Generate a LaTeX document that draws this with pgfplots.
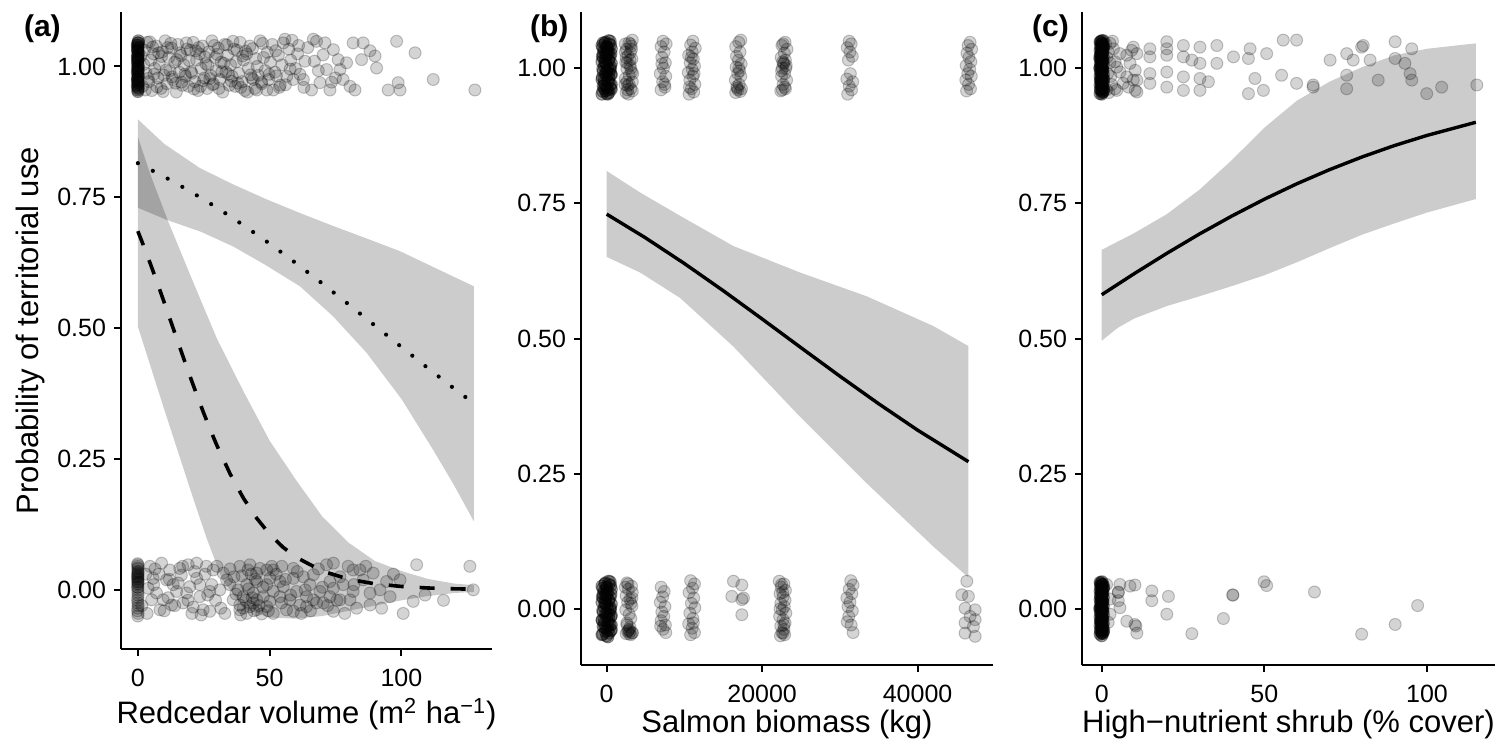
\documentclass[border=0pt]{standalone}
\usepackage{fontspec}
\setmainfont{Liberation Sans}
\usepackage{pgfplots}
\usepackage{pgfplotstable}
\pgfplotsset{compat=1.18}
\pgfplotsset{
  panel/.style={
    scale only axis,
    axis x line*=bottom, axis y line*=left,
    axis line style={line width=1pt, black},
    tick align=outside, major tick length=3.3pt,
    every tick/.style={line width=1pt, black},
    minor tick num=0,
    ytick={0,0.25,0.5,0.75,1},
    yticklabel={\pgfmathprintnumber[fixed,fixed zerofill,precision=2,assume math mode=true]{\tick}},
    xticklabel={\pgfmathprintnumber[fixed,precision=0,1000 sep={},assume math mode=true]{\tick}},
    scaled x ticks=false, scaled y ticks=false,
    tick label style={font=\fontsize{12.5}{14}\selectfont, text=black},
    yticklabel style={anchor=east, inner sep=0pt, xshift=-4pt},
    xticklabel style={anchor=north, inner sep=0pt, yshift=-6.3pt},
  },
  pts/.style={only marks, mark=*, mark size=3pt,
    mark options={fill=black, fill opacity=0.17, draw=black, draw opacity=0.22, line width=0.5pt}},
  rib/.style={fill=black, fill opacity=0.2, draw=none},
}
% observations stacked at zero on the x axis (many sites share x = 0)
\pgfplotstableread{
x y
0 0.952
0.2 0.958
-0.2 0.963
0.1 0.968
0 0.972
-0.1 0.976
0.2 0.981
0 0.985
-0.2 0.989
0.1 0.993
0 0.997
0.2 1.001
-0.1 1.005
0 1.009
0.1 1.013
-0.2 1.017
0 1.021
0.2 1.025
-0.1 1.029
0 1.033
0.1 1.037
-0.2 1.041
0 1.045
0.2 1.049
0 0.955
0.1 0.965
-0.1 0.975
0 0.995
0.1 1.015
-0.1 1.035
0 0.96
0 0.98
0 1.0
0 1.02
0 1.04
0.1 0.99
-0.1 1.01
0 1.03
0 0.97
0.2 1.045
}\colAone
\pgfplotstableread{
x y
-600 0.952
300 0.955
-150 0.958
600 0.961
0 0.964
-450 0.967
450 0.970
-300 0.973
150 0.976
-600 0.979
300 0.982
0 0.985
600 0.988
-150 0.991
-450 0.994
450 0.997
150 1.000
-300 1.003
0 1.006
600 1.009
-600 1.012
300 1.015
-150 1.018
450 1.021
0 1.024
-450 1.027
150 1.030
-300 1.033
600 1.036
0 1.039
-600 1.042
300 1.045
-150 1.048
450 1.050
150 0.960
-300 0.980
450 1.000
-450 1.020
0 1.040
300 0.990
-150 1.010
600 0.970
0 0.953
-450 1.047
300 1.028
-300 0.962
150 1.037
0 0.995
-500 0.957
500 0.963
-250 0.969
250 0.975
-550 0.983
550 0.989
0 0.993
-500 0.999
500 1.004
-250 1.011
250 1.016
-550 1.022
550 1.027
0 1.031
-500 1.038
500 1.043
-250 1.046
250 1.051
150 0.952
-150 1.026
}\colBone
\pgfplotstableread{
x y
-600 -0.048
300 -0.045
-150 -0.042
600 -0.039
0 -0.036
-450 -0.033
450 -0.030
-300 -0.027
150 -0.024
-600 -0.021
300 -0.018
0 -0.015
600 -0.012
-150 -0.009
-450 -0.006
450 -0.003
150 0.000
-300 0.003
0 0.006
600 0.009
-600 0.012
300 0.015
-150 0.018
450 0.021
0 0.024
-450 0.027
150 0.030
-300 0.033
600 0.036
0 0.039
-600 0.042
300 0.045
-150 0.048
450 0.050
150 -0.040
-300 -0.020
450 0.000
-450 0.020
0 0.040
300 -0.010
-150 0.010
600 -0.030
0 -0.050
-500 -0.047
500 -0.041
-250 -0.035
250 -0.029
-550 -0.021
550 -0.015
0 -0.009
-500 -0.003
500 0.002
-250 0.011
250 0.016
-550 0.022
550 0.027
0 0.031
-500 0.038
500 0.043
-250 0.046
250 0.051
150 -0.052
-150 0.026
}\colBzero
\pgfplotstableread{
x y
0 0.952
0.3 0.956
-0.3 0.960
0.1 0.964
-0.1 0.968
0.3 0.972
0 0.976
-0.3 0.980
0.2 0.984
0 0.988
-0.2 0.992
0.3 0.996
0 1.000
-0.3 1.004
0.1 1.008
-0.1 1.012
0.3 1.016
0 1.020
-0.3 1.024
0.2 1.028
0 1.032
-0.2 1.036
0.3 1.040
0 1.044
-0.3 1.048
0.1 1.051
0 0.958
0 0.966
0 0.974
0 0.982
0 0.990
0 0.998
0 1.006
0 1.014
0 1.022
0 1.030
0 1.038
0 1.046
0.2 0.962
-0.2 0.978
0.2 1.002
-0.2 1.018
0.2 1.034
-0.2 1.050
-0.5 0.953
0.5 0.957
-0.4 0.961
0.4 0.965
-0.5 0.969
0.5 0.973
-0.4 0.977
0.4 0.981
-0.5 0.985
0.5 0.989
-0.4 0.993
0.4 0.997
-0.5 1.001
0.5 1.005
-0.4 1.009
0.4 1.013
-0.5 1.017
0.5 1.021
-0.4 1.025
0.4 1.029
-0.5 1.033
0.5 1.037
-0.4 1.041
0.4 1.045
-0.5 1.049
0.5 1.051
0.1 0.955
-0.1 0.97
0.1 0.985
-0.1 1.0
0.1 1.015
-0.1 1.03
0.1 1.045
0.6 0.96
-0.6 1.0
0.6 1.04
0.6 0.98
-0.6 1.02
}\colCone
\pgfplotstableread{
x y
0 -0.050
0.3 -0.046
-0.3 -0.042
0.1 -0.038
-0.1 -0.034
0.3 -0.030
0 -0.026
-0.3 -0.022
0.2 -0.018
0 -0.014
-0.2 -0.010
0.3 -0.006
0 -0.002
-0.3 0.002
0.1 0.006
-0.1 0.010
0.3 0.014
0 0.018
-0.3 0.022
0.2 0.026
0 0.030
-0.2 0.034
0.3 0.038
0 0.042
-0.3 0.046
0.1 0.050
0 -0.044
0 -0.036
0 -0.028
0 -0.020
0 -0.012
0 -0.004
0 0.004
0 0.012
0 0.020
0 0.028
0 0.036
0 0.044
0.2 -0.040
-0.2 -0.024
0.2 0.000
-0.2 0.016
0.2 0.032
-0.2 0.048
-0.5 -0.047
0.5 -0.043
-0.4 -0.039
0.4 -0.035
-0.5 -0.031
0.5 -0.027
-0.4 -0.023
0.4 -0.019
-0.5 -0.015
0.5 -0.011
-0.4 -0.007
0.4 -0.003
-0.5 0.001
0.5 0.005
-0.4 0.009
0.4 0.013
-0.5 0.017
0.5 0.021
-0.4 0.025
0.4 0.029
-0.5 0.033
0.5 0.037
-0.4 0.041
0.4 0.045
-0.5 0.049
0.1 -0.045
-0.1 -0.03
0.1 -0.015
-0.1 0.0
0.1 0.015
-0.1 0.03
0.1 0.045
0.6 -0.04
-0.6 0.0
0.6 0.04
}\colCzero
\begin{document}
\begin{tikzpicture}
\path (0,0) rectangle (751.5pt,371pt);
% ---------------- panel (a)
\begin{axis}[panel, at={(60.5pt,46.5pt)}, anchor=south west,
  width=185.5pt, height=318.5pt,
  xmin=-6.4, xmax=134.4, ymin=-0.113, ymax=1.104,
  xtick={0,50,100},
  xlabel={Redcedar volume (m\textsuperscript{2} ha\textsuperscript{−1})},
  xlabel style={at={(axis description cs:0.5,-0.1177)}, anchor=base, font=\fontsize{15.5}{18}\selectfont},
  ylabel={Probability of territorial use},
  ylabel style={at={(axis description cs:-0.2237,0.5)}, rotate=0, anchor=base, font=\fontsize{15.5}{18}\selectfont},
]
\addplot[rib] coordinates {(0,0.899) (10,0.852) (23.5,0.806) (36,0.775) (48.9,0.746) (61.5,0.72) (74.2,0.695) (87,0.671) (99.5,0.647) (112,0.617) (127.5,0.580)
  (127.5,0.131) (120,0.20) (112,0.268) (100,0.365) (86.8,0.453) (74,0.523) (61.5,0.580) (48,0.622) (36.2,0.656) (24,0.684) (10.9,0.707) (0,0.730)};
\addplot[rib] coordinates {(0,0.865) (5,0.79) (11.5,0.704) (20,0.60) (30,0.48) (40,0.38) (50,0.285) (60,0.21) (70,0.14) (80,0.09) (90,0.055) (100,0.036) (110,0.021) (120,0.012) (127.5,0.009)
  (127.5,-0.004) (120,-0.006) (110,-0.012) (100,-0.02) (90,-0.03) (80,-0.04) (70,-0.05) (60,-0.055) (50,-0.053) (40,-0.035) (32,0.02) (26,0.10) (20,0.19) (10,0.345) (0,0.503)};
\addplot[pts] table {\colAone};
\addplot[pts] table {\colAone};
% points y = 1
\addplot[pts] table {
1.8 0.962
2.5 1.031
3.1 0.987
3.6 1.046
4.2 0.971
4.9 1.012
5.3 0.954
5.9 1.024
6.4 0.996
7.0 1.039
7.6 0.978
8.1 1.005
8.8 0.958
9.3 1.028
9.9 0.983
10.4 1.049
11.0 0.967
11.7 1.017
12.2 0.992
12.8 1.035
13.3 0.975
14.0 1.008
14.6 0.951
15.1 1.042
15.7 0.989
16.4 1.021
16.9 0.964
17.5 1.003
18.1 0.981
18.6 1.033
19.2 0.962
19.9 1.031
20.5 0.987
21.0 1.046
21.6 0.971
22.3 1.012
22.8 0.954
23.4 1.024
24.0 0.996
24.5 1.039
25.2 0.978
25.8 1.005
26.3 0.958
26.9 1.028
27.6 0.983
28.1 1.049
28.7 0.967
29.3 1.017
29.8 0.992
30.5 1.035
31.1 0.975
31.6 1.008
32.2 0.951
32.9 1.042
33.4 0.989
34.0 1.021
34.7 0.964
35.2 1.003
35.8 0.981
36.5 1.033
37.0 0.962
37.6 1.031
38.3 0.987
38.8 1.046
39.5 0.971
40.1 1.012
40.6 0.954
41.3 1.024
41.9 0.996
42.5 1.039
43.2 0.978
43.8 0.975
44.4 0.958
45.1 0.955
45.7 0.983
46.4 1.049
47.0 0.967
47.7 1.017
48.3 0.992
48.9 0.955
49.6 0.975
50.3 1.008
51.0 1.042
51.4 0.955
52.0 0.989
52.6 0.982
53.3 1.021
54.0 0.964
54.7 1.003
55.2 1.045
55.8 1.052
56.5 0.981
57.3 1.033
58.0 1.012
59.0 0.975
59.8 0.996
60.6 1.024
61.5 0.985
62.8 0.975
63.4 1.010
64.5 1.036
65.9 0.955
66.6 1.052
67.8 1.048
68.5 0.992
69.1 0.969
70.3 1.022
71.6 0.994
72.9 0.955
74.2 1.032
75.0 0.978
76.0 1.013
76.7 0.994
77.9 0.975
79.2 1.007
80.5 0.962
81.7 1.045
82.4 0.955
84.9 1.013
85.5 1.045
88.1 1.030
90.0 1.020
90.6 0.997
95.0 0.955
98.2 1.048
98.8 0.969
99.5 0.955
105.2 1.026
112.1 0.975
127.9 0.955
2.2 1.004
3.9 0.977
5.6 1.037
7.3 0.961
9.0 1.019
10.7 0.993
12.5 1.044
14.3 0.968
16.0 1.026
17.8 0.985
19.5 1.011
21.3 0.957
23.0 1.036
24.8 0.973
26.6 1.002
28.4 0.965
30.1 1.023
31.9 0.99
33.7 1.041
35.5 0.972
37.3 1.009
39.1 0.96
40.9 1.029
42.8 0.984
44.7 1.015
46.9 0.97
49.1 1.027
53.7 0.96
57.8 0.995
61.0 1.04
1.2 1.02
2.8 0.955
4.5 1.047
6.1 0.985
7.9 1.026
9.6 0.952
11.3 1.036
13.0 0.98
14.8 1.013
16.6 0.97
18.4 1.045
20.2 0.99
22.0 1.03
23.8 0.962
25.5 1.018
27.3 0.977
29.0 1.04
30.8 0.958
32.6 1.006
34.4 0.985
36.1 1.048
38.0 0.968
39.8 1.02
41.6 0.951
43.5 1.034
45.3 1.0
47.3 1.044
49.8 0.985
52.3 1.03
56.0 0.965
58.5 1.05
63.0 0.96
67.0 1.01
71.0 1.045
73.5 0.97
};
% points y = 0
\addplot[pts] table {
0 -0.05
0.1 -0.045
-0.1 -0.04
0 -0.035
0.1 -0.03
0 -0.025
-0.1 -0.02
0 -0.015
0.1 -0.01
0 -0.005
0 0
-0.1 0.005
0 0.01
0.1 0.015
0 0.02
-0.1 0.025
0 0.03
0.1 0.035
0 0.04
0 0.045
-0.1 0.05
0 0.012
0 0.022
0 0.028
0 0.018
0 0.035
0 0.005
0 0.042
0 0.025
0 0.015
0 0.032
0 0.048
4.6 0.045
9.0 0.051
12.1 0.038
15.9 0.041
19.1 0.048
22.3 0.051
5.8 0.022
10.9 0.019
15.3 0.013
19.7 0.006
23.5 0.010
8.4 -0.038
12.8 -0.029
17.2 -0.025
21.0 -0.033
24.8 -0.038
27.3 -0.041
28.6 0.038
32.4 0.032
34.9 0.010
38.7 0.045
42.5 0.048
45.1 0.032
48.9 0.038
51.4 0.038
54.6 0.045
59.0 0.041
62.8 0.025
66.6 0.029
71.6 0.048
74.2 0.051
79.8 0.045
84.3 0.038
89.3 0.032
94.4 0.016
99.5 0.019
105.8 0.048
126.0 0.045
127.3 0.000
100.7 -0.045
104.5 -0.022
109.0 -0.010
95.7 -0.013
88.1 -0.029
81.7 0.038
38.7 -0.038
41.3 -0.045
45.1 -0.038
48.9 -0.032
51.4 -0.045
56.4 -0.038
59.0 -0.041
64.0 -0.032
67.8 -0.025
74.2 -0.041
83.0 -0.035
40.0 -0.013
43.8 -0.006
47.6 -0.013
51.4 -0.003
55.2 0.006
60.2 -0.003
64.0 -0.013
69.1 -0.003
74.2 0.003
77.9 0.010
81.7 -0.003
31.1 0.000
36.2 -0.019
27.3 -0.003
23.5 -0.013
18.5 -0.006
14.7 -0.003
41.3 0.010
45.1 0.016
50.1 0.022
53.9 0.016
59.0 0.022
65.3 0.010
72.9 0.016
76.7 0.025
85.5 0.019
91.9 0.000
76.7 -0.019
70.4 -0.025
88.1 -0.006
48.9 0.010
33.7 0.019
22.3 0.022
38.7 -0.029
43.8 -0.025
42.5 -0.032
40.0 -0.035
45.1 -0.019
50.1 -0.022
53.9 -0.013
57.7 -0.019
61.5 -0.029
66.6 -0.019
72.9 -0.013
80.5 -0.019
13.4 0.010
7.1 -0.006
3.9 0.003
5.2 -0.019
9.6 -0.019
42.0 0.002
44.0 -0.040
46.3 0.041
39.5 0.027
37.2 -0.008
47.0 -0.046
43.0 0.030
41.0 -0.020
3.0 0.030
6.5 0.040
11.5 -0.015
16.5 0.028
20.5 -0.045
25.5 0.030
29.5 -0.020
26.0 0.045
1.5 -0.03
3.5 -0.045
6.0 0.01
8.0 0.03
10.0 -0.04
12.0 0.02
14.0 -0.03
17.0 0.045
19.0 -0.02
21.5 0.035
24.0 -0.048
26.5 -0.01
28.0 0.01
30.0 0.045
31.5 -0.035
33.0 -0.045
35.0 0.04
36.5 0.025
38.0 0.0
39.0 -0.048
41.8 0.038
43.4 -0.015
44.5 0.02
46.0 -0.03
47.5 0.005
49.5 -0.04
50.8 0.045
52.5 0.03
54.5 -0.025
56.0 0.02
58.0 -0.01
60.5 0.035
62.0 -0.045
63.5 0.0
65.5 -0.04
68.5 0.04
70.0 0.005
72.0 -0.03
75.5 -0.02
78.5 -0.045
82.0 0.01
86.5 0.045
92.5 -0.035
97.0 0.03
116.0 -0.02
};
\addplot[black, line width=2.1pt, line cap=round, dash pattern=on 0pt off 8.4pt] coordinates {
(0,0.8152) (10,0.7894) (20,0.7610) (30,0.7302) (40,0.6969) (50,0.6615) (60,0.6241) (70,0.5853) (80,0.5453) (90,0.5047) (100,0.4641) (110,0.4239) (120,0.3847) (127.5,0.3563)};
\addplot[black, line width=1.8pt, dash pattern=on 7.5pt off 8pt] coordinates {
(0,0.6853) (2.5,0.6531) (5,0.6195) (7.5,0.5848) (10,0.5491) (12.5,0.5129) (15,0.4766) (17.5,0.4406) (20,0.4052) (22.5,0.3707) (25,0.3375) (27.5,0.3058) (30,0.2759) (35,0.2217) (40,0.1757) (45,0.1375) (50,0.1065) (55,0.0818) (60,0.0625) (70,0.0359) (80,0.0204) (90,0.0115) (100,0.0065) (110,0.0036) (120,0.0020) (127.5,0.0013)};
\end{axis}
% ---------------- panel (b)
\begin{axis}[panel, at={(290.5pt,38.5pt)}, anchor=south west,
  width=206pt, height=326.5pt,
  xmin=-3300, xmax=49700, ymin=-0.104, ymax=1.104,
  xtick={0,20000,40000},
  xlabel={Salmon biomass (kg)},
  xlabel style={at={(axis description cs:0.5,-0.1026)}, anchor=base, font=\fontsize{15.5}{18}\selectfont},
]
\addplot[rib] coordinates {(0,0.810) (4310,0.770) (9450,0.727) (16310,0.671) (24890,0.622) (33470,0.578) (42030,0.523) (46540,0.486)
  (46540,0.058) (42030,0.115) (33470,0.232) (24890,0.355) (16310,0.485) (9450,0.575) (4310,0.622) (0,0.651)};
\addplot[pts] table {\colBone};
\addplot[pts] table {\colBone};
\addplot[pts] table {\colBzero};
\addplot[pts] table {\colBzero};
\addplot[pts] table {
2500 0.955
3100 0.962
2700 0.968
3300 0.975
2400 0.981
2900 0.987
3200 0.993
2600 0.999
3000 1.005
2450 1.011
3250 1.017
2750 1.023
3050 1.029
2550 1.035
3150 1.041
2850 1.047
3300 1.052
2400 1.045
2700 0.96
3100 1.0
2500 1.02
2900 0.97
3200 1.035
2350 0.97
3350 0.99
2650 1.01
3050 1.045
2400 1.03
3300 0.958
2800 0.952
2600 0.975
3000 1.015
7000 0.96
7500 0.965
7200 0.975
7600 0.985
6900 0.99
7300 1.0
7550 1.01
7100 1.02
7400 1.03
7000 1.04
7650 1.045
7250 1.05
7450 0.97
7100 1.008
10600 0.952
11200 0.956
10900 0.962
11350 0.97
10700 0.978
11100 0.985
10500 0.992
11000 0.998
11300 1.004
10750 1.01
11150 1.017
10550 1.024
11000 1.03
11400 1.037
10800 1.043
11100 1.05
10650 0.965
11250 0.99
10900 1.02
16600 0.955
17200 0.957
16900 0.96
17350 0.962
16750 0.966
17050 0.97
16550 0.978
17250 0.985
16850 0.99
17100 0.995
16650 1.002
17300 1.008
16950 1.015
16700 1.022
17150 1.03
16600 1.04
17000 1.048
17250 1.052
16800 0.963
17000 1.0
22400 0.958
23000 0.962
22700 0.97
23150 0.978
22500 0.985
22900 0.99
22600 1.0
23100 1.005
22800 1.01
22650 1.012
23000 1.015
22450 1.02
22850 1.028
23200 1.035
22550 1.042
22950 1.048
22750 1.008
22600 0.96
22900 0.965
22700 1.045
22500 0.995
23050 1.0
31000 0.952
31500 0.96
31200 0.967
31650 0.975
30900 0.98
31350 0.99
31100 1.015
31600 1.022
31300 1.03
30950 1.038
31450 1.045
31200 1.05
46300 0.958
46800 0.962
46550 0.97
46200 0.978
46900 0.985
46450 0.99
46700 0.998
46250 1.005
46850 1.012
46600 1.02
46350 1.028
46950 1.035
46500 1.042
46750 1.048
};
\addplot[pts] table {
2600 0.048
3200 0.042
2800 0.036
3300 0.030
2500 0.024
3000 0.018
2700 0.012
3250 0.005
2450 -0.002
2900 -0.010
3100 -0.018
2600 -0.026
3000 -0.034
2800 -0.040
3300 -0.044
2500 -0.046
3100 -0.048
2700 -0.042
2900 -0.038
2400 0.04
3300 -0.045
2900 -0.046
3100 0.01
2600 -0.03
3000 -0.042
2750 0.046
3250 0.02
7000 0.040
7400 0.032
7200 0.022
6900 0.012
7500 0.004
7100 -0.006
7350 -0.014
7000 -0.022
7550 -0.03
7250 -0.038
6950 -0.032
7600 -0.044
10800 0.052
11300 0.046
11050 0.038
10600 0.030
11200 0.020
10900 0.010
11350 0.002
10700 -0.008
11100 -0.018
10550 -0.028
11000 -0.036
11300 -0.044
10800 -0.048
11150 -0.026
16310 0.051
17390 0.044
16100 0.023
17600 0.020
17390 0.017
17390 -0.011
22200 0.051
22800 0.046
22450 0.040
23000 0.034
22300 0.028
22700 0.022
22950 0.016
22400 0.010
22850 0.004
22600 -0.002
23050 -0.008
22250 -0.014
22700 -0.020
22950 -0.026
22400 -0.032
22800 -0.038
22550 -0.044
22350 -0.050
22900 -0.048
22650 0.030
22500 0.045
22800 -0.030
22300 0.000
22700 -0.045
31400 0.052
31700 0.044
31200 0.036
31550 0.028
30900 0.020
31300 0.012
31050 0.004
31600 -0.004
31150 -0.014
30950 -0.024
31450 -0.030
31700 -0.044
46330 0.051
45690 0.026
46540 0.023
46110 0.001
47400 -0.002
46750 -0.014
47400 -0.020
46110 -0.026
47180 -0.033
46110 -0.045
47400 -0.051
};
\addplot[black, line width=1.7pt] coordinates {
(0,0.7301) (5000,0.6862) (10000,0.6387) (15000,0.5884) (20000,0.5361) (25000,0.4830) (30000,0.4303) (35000,0.3792) (40000,0.3305) (46540,0.2721)};
\end{axis}
% ---------------- panel (c)
\begin{axis}[panel, at={(541pt,38.5pt)}, anchor=south west,
  width=206.5pt, height=326.5pt,
  xmin=-6.06, xmax=120.9, ymin=-0.104, ymax=1.104,
  xtick={0,50,100},
  xlabel={High−nutrient shrub (\% cover)},
  xlabel style={at={(axis description cs:0.5,-0.1026)}, anchor=base, font=\fontsize{15.5}{18}\selectfont},
]
\addplot[rib] coordinates {(0,0.664) (10,0.695) (20,0.730) (30,0.775) (40,0.83) (50,0.89) (60,0.94) (70,0.975) (80,1.002) (90,1.024) (100,1.036) (115,1.046)
  (115,0.758) (100,0.733) (90,0.713) (80,0.692) (70,0.667) (60,0.641) (50,0.617) (40,0.597) (30,0.578) (20,0.56) (10,0.537) (5,0.52) (0,0.496)};
\addplot[pts] table {\colCone};
\addplot[pts] table {\colCone};
\addplot[pts] table {\colCzero};
\addplot[pts] table {\colCzero};
\addplot[pts] table {
1.5 0.96
2.0 1.03
1.8 0.99
2.5 1.01
3.0 0.97
1.2 1.045
3.3 1.05
2.2 0.955
1.6 1.02
2.8 0.985
9.7 1.039
14.8 1.036
20.0 1.049
20.0 1.036
25.1 1.042
30.2 1.039
35.4 1.042
45.6 1.036
55.8 1.052
59.9 1.052
90.2 1.049
95.3 1.036
80.4 1.042
79.9 1.039
7.7 1.024
10.8 1.027
14.8 1.021
20.0 1.024
25.1 1.021
27.7 1.015
30.2 1.009
35.4 1.009
40.5 1.021
45.1 1.018
50.7 1.027
70.2 1.015
75.3 1.027
77.3 1.015
82.5 1.015
90.2 1.018
93.2 1.009
10.3 0.996
14.8 0.990
20.0 0.993
25.1 0.984
30.2 0.981
32.8 0.975
47.1 0.981
55.3 0.987
59.9 0.972
65.0 0.969
75.3 0.987
85.0 0.978
94.8 0.990
95.3 0.978
9.7 0.978
14.8 0.972
20.0 0.965
25.1 0.959
30.2 0.959
45.1 0.953
49.7 0.959
65.0 0.965
75.3 0.962
99.9 0.953
104.5 0.965
115.3 0.969
4.6 0.959
10.8 0.956
5.6 1.027
4.6 1.002
7.7 0.984
2.55 1.046
3.6 1.036
4.1 1.012
5.6 0.993
6.6 0.972
4.1 0.962
8.7 1.009
10.3 0.959
10.8 0.978
9.2 1.033
8.2 0.965
};
\addplot[pts] table {
1.5 0.045
5.6 0.045
8.7 0.042
10.2 0.044
5.1 0.031
5.1 0.030
2.55 0.018
5.1 0.015
5.6 0.002
15.4 0.033
15.4 0.015
20.5 0.023
20.0 -0.010
7.7 -0.023
10.2 -0.029
10.5 -0.032
10.8 -0.045
27.7 -0.046
37.4 -0.018
40.3 0.025
40.3 0.026
49.9 0.050
50.7 0.043
65.4 0.031
79.9 -0.047
90.2 -0.029
97.1 0.006
2.55 -0.010
2.0 -0.025
};
\addplot[black, line width=1.7pt] coordinates {
(0,0.5810) (10,0.6200) (20,0.6575) (30,0.6932) (40,0.7266) (50,0.7577) (60,0.7863) (70,0.8123) (80,0.8358) (90,0.8570) (100,0.8757) (115,0.9000)};
\end{axis}
\node[anchor=base west, font=\fontsize{15}{18}\selectfont\bfseries] at (8.5pt,352.65pt) {(a)};
\node[anchor=base west, font=\fontsize{15}{18}\selectfont\bfseries] at (261.5pt,352.65pt) {(b)};
\node[anchor=base west, font=\fontsize{15}{18}\selectfont\bfseries] at (512.5pt,352.65pt) {(c)};
\end{tikzpicture}
\end{document}
